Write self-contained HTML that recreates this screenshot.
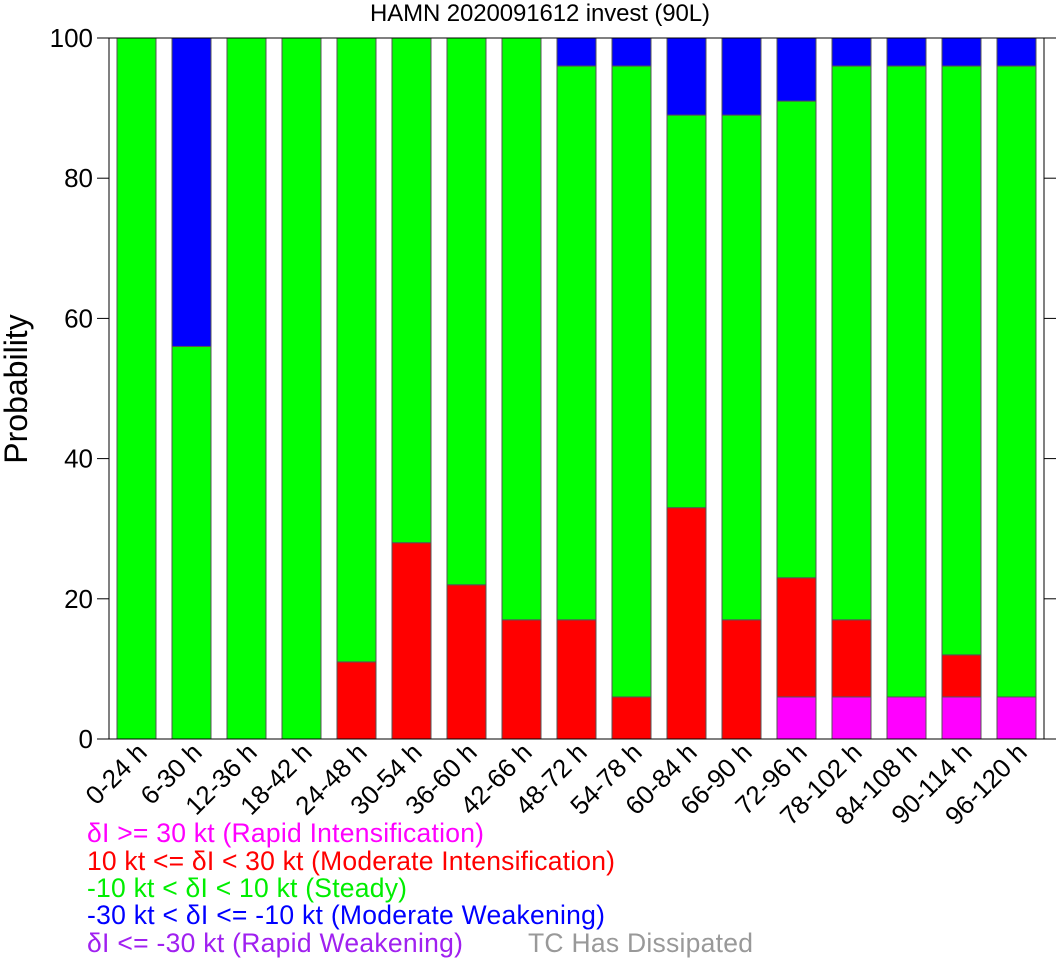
<!DOCTYPE html>
<html><head><meta charset="utf-8"><style>body{margin:0;background:#fff}svg{display:block;font-family:"Liberation Sans",Arial,sans-serif}</style></head>
<body>
<svg id="chart" width="1057" height="960" viewBox="0 0 1057 960">
<text x="540" y="21" font-size="24" text-anchor="middle" textLength="340">HAMN 2020091612 invest (90L)</text>
<text transform="translate(27,389) rotate(-90)" font-size="32" text-anchor="middle">Probability</text>
<g id="bars"></g>
<g id="axes"></g>
<g font-size="26.5">
<text x="87" y="842" fill="#ff00ff" textLength="397">δI &gt;= 30 kt (Rapid Intensification)</text>
<text x="87" y="870" fill="#ff0000" textLength="528">10 kt &lt;= δI &lt; 30 kt (Moderate Intensification)</text>
<text x="87" y="897" fill="#00ee00" textLength="320">-10 kt &lt; δI &lt; 10 kt (Steady)</text>
<text x="87" y="924" fill="#0000ff" textLength="518">-30 kt &lt; δI &lt;= -10 kt (Moderate Weakening)</text>
<text x="87" y="952" fill="#a020f0" textLength="376">δI &lt;= -30 kt (Rapid Weakening)</text>
<text x="528" y="952" fill="#999999" textLength="225">TC Has Dissipated</text>
</g>
</svg>
<script>
const categories=["0-24 h","6-30 h","12-36 h","18-42 h","24-48 h","30-54 h","36-60 h","42-66 h","48-72 h","54-78 h","60-84 h","66-90 h","72-96 h","78-102 h","84-108 h","90-114 h","96-120 h"];
const rapidInt=[0,0,0,0,0,0,0,0,0,0,0,0,6,6,6,6,6];
const moderateInt=[0,0,0,0,11,28,22,17,17,6,33,17,17,11,0,6,0];
const steady=[100,56,100,100,89,72,78,83,79,90,56,72,68,79,90,84,90];
const moderateWeak=[0,44,0,0,0,0,0,0,4,4,11,11,9,4,4,4,4];
const rapidWeak=[0,0,0,0,0,0,0,0,0,0,0,0,0,0,0,0,0];
const yTicks=[0,20,40,60,80,100];

const NS="http://www.w3.org/2000/svg";
const X0=109,X1=1044,Y0=739,Y1=38,slot=(X1-X0)/categories.length;
const y=v=>Y0-(v/100)*(Y0-Y1);
const xc=i=>X0+slot*(i+0.5);
function mk(t,a,p){const e=document.createElementNS(NS,t);for(const k in a)e.setAttribute(k,a[k]);p.appendChild(e);return e;}
const bars=document.getElementById('bars'),axes=document.getElementById('axes');
const series=[[rapidInt,'#ff00ff','rapid-int'],[moderateInt,'#ff0000','moderate-int'],[steady,'#00ff00','steady'],[moderateWeak,'#0000ff','moderate-weak'],[rapidWeak,'#a020f0','rapid-weak']];
const bw=39;
categories.forEach((c,i)=>{
  let acc=0;
  series.forEach(s=>{
    const v=s[0][i]; if(v<=0)return;
    const r=mk('rect',{x:xc(i)-bw/2,y:y(acc+v),width:bw,height:y(acc)-y(acc+v),fill:s[1],stroke:'#555',"stroke-width":1},bars);
    
    
    acc+=v;
  });
  const t=mk('text',{transform:`translate(${xc(i)+12},754) rotate(-45)`,"font-size":26,"text-anchor":"end"},axes);
  t.textContent=c;
  
  
});
const fr=mk('rect',{x:X0,y:Y1,width:X1-X0,height:Y0-Y1,fill:'none',stroke:'#000',"stroke-width":1},axes);


yTicks.forEach(v=>{
  mk('line',{x1:X0-12,x2:X0,y1:y(v),y2:y(v),stroke:'#000'},axes);
  mk('line',{x1:X1,x2:X1+12,y1:y(v),y2:y(v),stroke:'#000'},axes);
  const t=mk('text',{x:X0-16,y:y(v)+9,"font-size":26,"text-anchor":"end"},axes);
  t.textContent=v;
  
  
});
</script>
</body></html>
